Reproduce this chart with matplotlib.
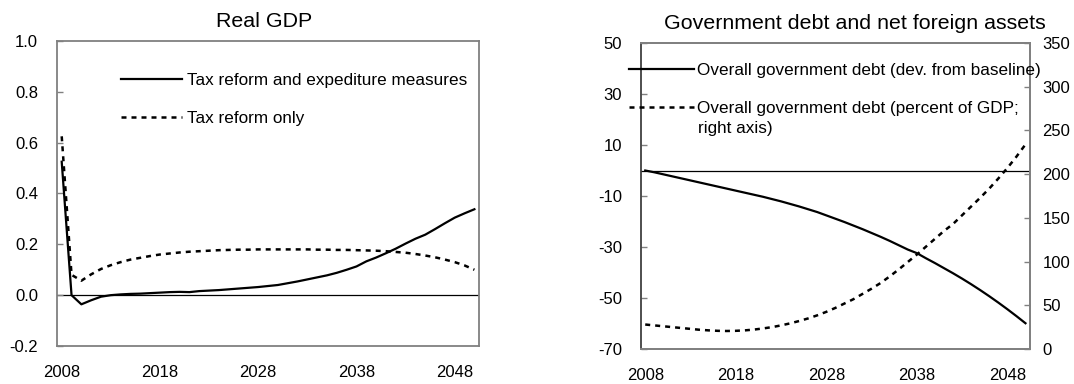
import matplotlib
matplotlib.use("Agg")
import matplotlib.pyplot as plt

plt.rcParams['font.family'] = ['Liberation Sans', 'DejaVu Sans']
plt.rcParams['axes.unicode_minus'] = False

years = list(range(2008, 2051))
xtick_labels = ['2008', '2018', '2028', '2038', '2048']

gdp_tax_exp = [0.525, 0.0, -0.036, -0.02, -0.006, 0.0, 0.003, 0.005, 0.006, 0.008,
               0.01, 0.012, 0.013, 0.012, 0.016, 0.018, 0.02, 0.023, 0.026, 0.029,
               0.032, 0.036, 0.04, 0.047, 0.054, 0.062, 0.07, 0.078, 0.088, 0.1,
               0.113, 0.133, 0.148, 0.165, 0.183, 0.203, 0.222, 0.238, 0.26, 0.283,
               0.305, 0.322, 0.338]
gdp_tax_only = [0.625, 0.08, 0.057, 0.082, 0.103, 0.118, 0.13, 0.14, 0.147, 0.154,
                0.16, 0.164, 0.168, 0.171, 0.173, 0.175, 0.177, 0.178, 0.179, 0.179,
                0.18, 0.18, 0.18, 0.18, 0.18, 0.18, 0.179, 0.179, 0.178, 0.178,
                0.177, 0.176, 0.175, 0.173, 0.17, 0.167, 0.162, 0.156, 0.149, 0.14,
                0.13, 0.117, 0.1]

debt_dev = [0.0, -0.7, -1.5, -2.3, -3.1, -3.9, -4.7, -5.5, -6.3, -7.1,
            -7.9, -8.7, -9.5, -10.3, -11.2, -12.1, -13.1, -14.1, -15.2, -16.3,
            -17.6, -18.9, -20.2, -21.6, -23.0, -24.5, -26.0, -27.6, -29.3, -31.0,
            -32.4, -34.4, -36.3, -38.3, -40.3, -42.4, -44.6, -46.9, -49.3, -51.8,
            -54.4, -57.1, -59.9]
debt_pct_gdp = [28, 27, 26, 25, 24, 23, 22, 21.3, 20.8, 20.6,
                20.8, 21.3, 22.2, 23.5, 25, 27, 29.3, 32, 35, 38.5,
                42.5, 47, 52, 57, 63, 69, 75.5, 83, 91, 99.5,
                108, 117, 126, 135, 143, 153, 163, 173, 183.5, 195,
                207, 220, 234]

W, H = 1074, 384
fig = plt.figure(figsize=(W / 100, H / 100), dpi=100)

def fbox(l, t, r, b):
    return [l / W, 1 - b / H, (r - l) / W, (b - t) / H]

ax1 = fig.add_axes(fbox(56.8, 41, 479.3, 346))
ax2 = fig.add_axes(fbox(640.7, 43, 1030, 349))

GRAY = '#808080'
TICKFS = 12
LEGFS = 12.3
TITLEFS = 15.4
dash = (0, (2.0, 2.0))

xpos = list(range(len(years)))
xt = [years.index(int(s)) for s in xtick_labels]

def style(ax):
    for s in ax.spines.values():
        s.set_color(GRAY)
        s.set_linewidth(1.3)
    ax.set_xlim(-0.5, len(years) - 0.5)
    ax.set_xticks(xt)
    ax.set_xticklabels(xtick_labels)
    ax.tick_params(axis='x', length=0, pad=13.5, labelsize=TICKFS)
    ax.tick_params(axis='y', direction='in', length=4, width=1, color=GRAY,
                   pad=13.5, labelsize=TICKFS)

# Left panel
style(ax1)
ax1.set_ylim(-0.2, 1.0)
ax1.set_yticks([-0.2, 0.0, 0.2, 0.4, 0.6, 0.8, 1.0])
ax1.set_yticklabels(['-0.2', '0.0', '0.2', '0.4', '0.6', '0.8', '1.0'])
ax1.axhline(0, color='black', lw=0.9, zorder=1)
l1, = ax1.plot(xpos, gdp_tax_exp, color='black', lw=1.6, label='Tax reform and expediture measures')
l2, = ax1.plot(xpos, gdp_tax_only, color='black', lw=1.8, linestyle=dash, label='Tax reform only')
ax1.set_title('Real GDP', fontsize=TITLEFS, x=0.49, pad=10.3)
ax1.legend(handles=[l1, l2], loc='upper left', bbox_to_anchor=(121 / W, 1 - 73 / H),
           bbox_transform=fig.transFigure, frameon=False, borderpad=0, borderaxespad=0,
           fontsize=LEGFS, handlelength=3.57, handletextpad=0.29, labelspacing=1.34)

# Right panel
style(ax2)
ax2.spines['left'].set_color('#404040')
ax2.set_ylim(-70, 50)
ax2.set_yticks([-70, -50, -30, -10, 10, 30, 50])
ax2.axhline(0, color='black', lw=0.9, zorder=1)
r1, = ax2.plot(xpos, debt_dev, color='black', lw=1.6,
               label='Overall government debt (dev. from baseline)')
ax2b = ax2.twinx()
for name, s in ax2b.spines.items():
    if name != 'left':
        s.set_color(GRAY)
        s.set_linewidth(1.3)
ax2b.spines['left'].set_visible(False)
ax2b.set_ylim(0, 350)
ax2b.set_yticks(list(range(0, 351, 50)))
ax2b.tick_params(axis='y', direction='in', length=4, width=1, color=GRAY,
                 pad=9, labelsize=TICKFS)
r2, = ax2b.plot(xpos, debt_pct_gdp, color='black', lw=1.8, linestyle=dash,
                label='Overall government debt (percent of GDP;')
ax2.set_title('Government debt and net foreign assets', fontsize=TITLEFS, x=0.549, pad=10.3)
ax2b.legend(handles=[r1, r2], loc='upper left', bbox_to_anchor=(628.6 / W, 1 - 63 / H),
            bbox_transform=fig.transFigure, frameon=False, borderpad=0, borderaxespad=0,
            fontsize=LEGFS, handlelength=3.82, handletextpad=0.2, labelspacing=1.35)
fig.text(697.5 / W, 1 - 128 / H, 'right axis)', fontsize=LEGFS, va='center', ha='left')

fig.savefig('out.png', dpi=100)
